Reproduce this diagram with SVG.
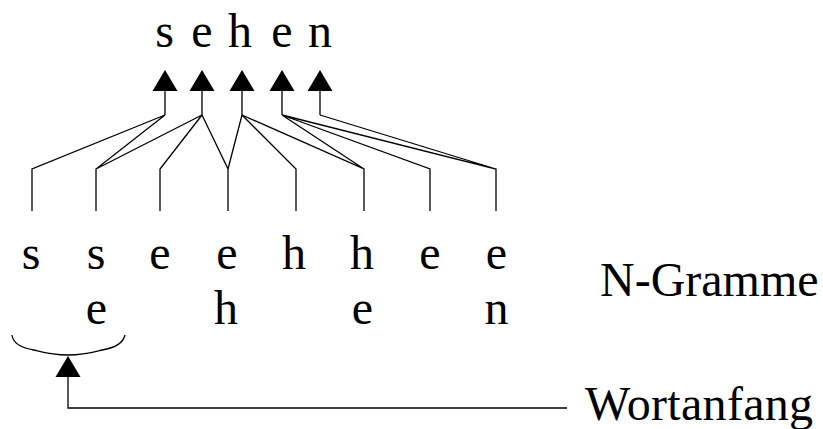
<svg xmlns="http://www.w3.org/2000/svg" xmlns:xlink="http://www.w3.org/1999/xlink" width="823" height="429" viewBox="0 0 823 429">
<style>
.t{font-family:"Liberation Serif","Times New Roman",serif;font-size:48px;fill:#000;text-anchor:middle}
.l{font-family:"Liberation Serif","Times New Roman",serif;font-size:48px;fill:#000}
.c{stroke:#000;stroke-width:1.3;fill:none;stroke-linejoin:miter}
</style>
<defs>
<path id="ah" d="M0,0 L-12.5,21 L12.5,21 Z" fill="#000"/>
</defs>
<rect width="823" height="429" fill="#fff"/>
<g id="word">
<text class="t" x="164.5 202 240 282 320" y="46.5">sehen</text>
</g>
<g id="ngrams">
<text class="t" x="31 96 160 227 294 362 430 496.5" y="269">sseehhee</text>
<text class="t" x="96.5 226 362.5 496.5" y="324">ehen</text>
</g>
<g id="label-ngramme"><text class="l" x="600" y="296">N-Gramme</text></g>
<g id="label-wortanfang"><text class="l" x="585" y="420" letter-spacing="0.3">Wortanfang</text></g>
<g id="brace">
<path class="c" d="M12,335 C13,344 22,348 34,350 C42,352 52,355 68,355 C84,355 94,352 102,350 C114,348 123,344 125,335"/>
</g>
<g id="connectors">
<g class="c">
<path d="M32,211 V169 L165,115 M96,211 V169 L165,115 M96,169 L202,115 M160,211 V169 L202,115 M228,211 V169 L202,115 M228,169 L242,115 M296,211 V169 L242,115 M364,211 V169 L242,115 M364,169 L282,115 M430,211 V169 L282,115 M496,211 V169 L282,115 M496,169 L320,115"/>
<path d="M165,115 V90 M202,115 V90 M242,115 V90 M282,115 V90 M320,115 V90"/>
<path d="M567,408 H68 V376"/>
</g>
<use xlink:href="#ah" x="165" y="70"/>
<use xlink:href="#ah" x="202" y="70"/>
<use xlink:href="#ah" x="242" y="70"/>
<use xlink:href="#ah" x="282" y="70"/>
<use xlink:href="#ah" x="320" y="70"/>
<use xlink:href="#ah" x="68" y="356"/>
</g>
</svg>
